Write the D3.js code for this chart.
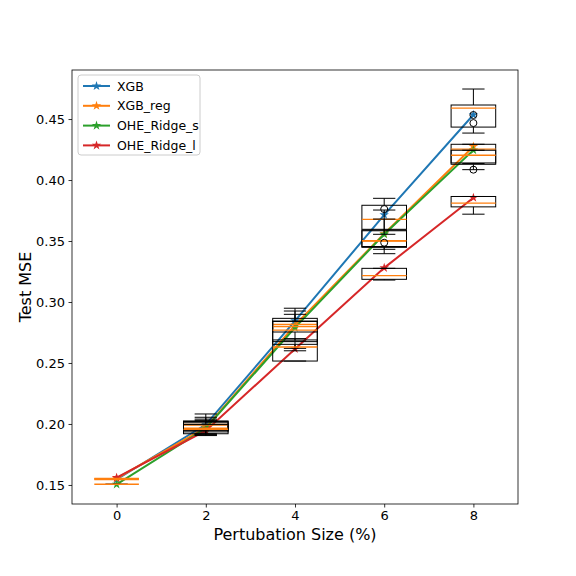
<!DOCTYPE html>
<html>
<head>
<meta charset="utf-8">
<script src="https://cdn.jsdelivr.net/npm/d3@7"></script>
<style>
  body { margin: 0; background: #fff; }
  svg { font-family: "DejaVu Sans", sans-serif; }
</style>
</head>
<body>
<svg id="chart" width="576" height="576"></svg>
<script>
// perturbation sizes (%)
const sizes = [0, 2, 4, 6, 8];
const seriesNames = ['XGB', 'XGB_reg', 'OHE_Ridge_s', 'OHE_Ridge_l'];
const colors = ['#1f77b4', '#ff7f0e', '#2ca02c', '#d62728'];

// mean test MSE per series (star markers)
const meanXGB = [0.1545, 0.1995, 0.2845, 0.3715, 0.4535];
const meanXGBreg = [0.1555, 0.1970, 0.2810, 0.3560, 0.4275];
const meanRidgeS = [0.1505, 0.1965, 0.2790, 0.3555, 0.4245];
const meanRidgeL = [0.1560, 0.1945, 0.2615, 0.3280, 0.3855];

// box stats per series, one entry per size: [whislo, q1, med, q3, whishi]
const boxXGB = [
  [0.1550, 0.1550, 0.1550, 0.1550, 0.1550],
  [0.1920, 0.1950, 0.1997, 0.2025, 0.2082],
  [0.2620, 0.2675, 0.2816, 0.2866, 0.2949],
  [0.3555, 0.3596, 0.3678, 0.3793, 0.3850],
  [0.4385, 0.4434, 0.4590, 0.4615, 0.4746]
];
const boxXGBreg = [
  [0.1545, 0.1545, 0.1545, 0.1545, 0.1545],
  [0.1915, 0.1945, 0.1990, 0.2020, 0.2055],
  [0.2680, 0.2754, 0.2799, 0.2844, 0.2926],
  [0.3396, 0.3448, 0.3500, 0.3584, 0.3754],
  [0.4135, 0.4140, 0.4254, 0.4293, 0.4293]
];
const boxRidgeS = [
  [0.1506, 0.1506, 0.1506, 0.1506, 0.1506],
  [0.1910, 0.1935, 0.1965, 0.2010, 0.2040],
  [0.2600, 0.2653, 0.2770, 0.2840, 0.2899],
  [0.3432, 0.3455, 0.3502, 0.3590, 0.3680],
  [0.4085, 0.4129, 0.4203, 0.4244, 0.4244]
];
const boxRidgeL = [
  [0.1553, 0.1553, 0.1553, 0.1553, 0.1553],
  [0.1905, 0.1920, 0.1955, 0.1995, 0.2030],
  [0.2516, 0.2516, 0.2631, 0.2689, 0.2700],
  [0.3180, 0.3186, 0.3216, 0.3276, 0.3276],
  [0.3720, 0.3780, 0.3810, 0.3865, 0.3865]
];
// outliers: [size, value]
const fliers = [
  [6, 0.3762], [6, 0.3486],
  [8, 0.4533], [8, 0.4467], [8, 0.4085]
];

const yTicks = [0.15, 0.20, 0.25, 0.30, 0.35, 0.40, 0.45];
const xTicks = [0, 2, 4, 6, 8];

const means = [meanXGB, meanXGBreg, meanRidgeS, meanRidgeL];
const boxes = [boxXGB, boxXGBreg, boxRidgeS, boxRidgeL];

const svg = d3.select('#chart');
const mLeft = 72, mRight = 518, mTop = 70, mBottom = 504;

const x = d3.scaleLinear().domain([-1, 9]).range([mLeft, mRight]);
const y = d3.scaleLinear().domain([0.1344, 0.4902]).range([mBottom, mTop]);

// axes
const xAxis = svg.append('g')
  .attr('transform', `translate(0,${mBottom})`)
  .call(d3.axisBottom(x).tickValues(xTicks).tickFormat(d3.format('d')).tickSizeOuter(0).tickSize(3.5).tickPadding(3.5));
const yAxis = svg.append('g')
  .attr('transform', `translate(${mLeft},0)`)
  .call(d3.axisLeft(y).tickValues(yTicks).tickFormat(d3.format('.2f')).tickSizeOuter(0).tickSize(3.5).tickPadding(3.5));
[xAxis, yAxis].forEach(a => {
  a.select('.domain').remove();
  a.selectAll('text').attr('font-size', 13).attr('fill', '#000')
    .attr('font-family', '"DejaVu Sans", sans-serif');
  a.selectAll('line').attr('stroke', '#000').attr('stroke-width', 0.8);
});

const plot = svg.append('g');

// mean lines
const line = d3.line().x((d, i) => x(sizes[i])).y(d => y(d));
const star = d3.symbol().type(d3.symbolStar).size(28);
means.forEach((m, s) => {
  plot.append('path').attr('d', line(m)).attr('fill', 'none')
    .attr('stroke', colors[s]).attr('stroke-width', 2);
  plot.selectAll(null).data(m).join('path')
    .attr('d', star)
    .attr('transform', (d, i) => `translate(${x(sizes[i])},${y(d)})`)
    .attr('fill', colors[s]);
});

// boxplots
const hw = x(0.5) - x(0);
const cw = hw / 2;
boxes.forEach(b => {
  b.forEach((st, i) => {
    const cx = x(sizes[i]);
    const [lo, q1, med, q3, hi] = st;
    const g = plot.append('g').attr('stroke', '#000').attr('stroke-width', 1).attr('fill', 'none');
    g.append('rect').attr('x', cx - hw).attr('y', y(q3))
      .attr('width', 2 * hw).attr('height', Math.max(0, y(q1) - y(q3)));
    g.append('line').attr('x1', cx).attr('x2', cx).attr('y1', y(q3)).attr('y2', y(hi));
    g.append('line').attr('x1', cx).attr('x2', cx).attr('y1', y(q1)).attr('y2', y(lo));
    g.append('line').attr('x1', cx - cw).attr('x2', cx + cw).attr('y1', y(hi)).attr('y2', y(hi));
    g.append('line').attr('x1', cx - cw).attr('x2', cx + cw).attr('y1', y(lo)).attr('y2', y(lo));
    g.append('line').attr('x1', cx - hw).attr('x2', cx + hw).attr('y1', y(med)).attr('y2', y(med))
      .attr('stroke', '#ff7f0e').attr('stroke-width', 1.3);
  });
});
plot.selectAll('circle.flier').data(fliers).join('circle')
  .attr('class', 'flier')
  .attr('cx', d => x(d[0])).attr('cy', d => y(d[1])).attr('r', 3.5)
  .attr('fill', 'none').attr('stroke', '#000').attr('stroke-width', 1);

// frame
svg.append('rect').attr('x', mLeft).attr('y', mTop)
  .attr('width', mRight - mLeft).attr('height', mBottom - mTop)
  .attr('fill', 'none').attr('stroke', '#000').attr('stroke-width', 0.8);

// axis labels
svg.append('text').attr('x', (mLeft + mRight) / 2).attr('y', 540)
  .attr('text-anchor', 'middle').attr('font-size', 16).text('Pertubation Size (%)');
svg.append('text').attr('transform', `translate(31,${(mTop + mBottom) / 2}) rotate(-90)`)
  .attr('text-anchor', 'middle').attr('font-size', 16).text('Test MSE');

// legend
const lg = svg.append('g').attr('transform', 'translate(78,75)');
lg.append('rect').attr('width', 122).attr('height', 80).attr('rx', 3)
  .attr('fill', '#fff').attr('fill-opacity', 0.8).attr('stroke', '#ccc').attr('stroke-width', 1);
seriesNames.forEach((name, s) => {
  const ly = 11 + s * 19.8;
  lg.append('line').attr('x1', 5).attr('x2', 32).attr('y1', ly).attr('y2', ly)
    .attr('stroke', colors[s]).attr('stroke-width', 2);
  lg.append('path').attr('d', star).attr('transform', `translate(18.5,${ly})`).attr('fill', colors[s]);
  lg.append('text').attr('x', 39).attr('y', ly + 4.5).attr('font-size', 12.5).text(name);
});
</script>
</body>
</html>
